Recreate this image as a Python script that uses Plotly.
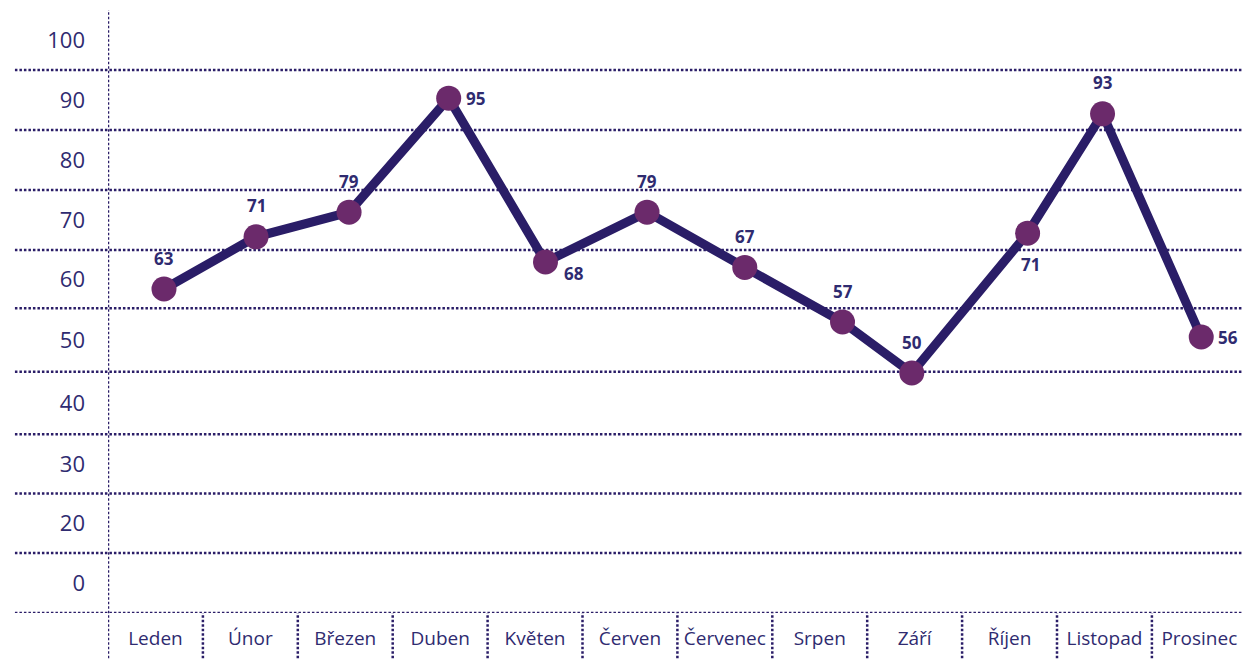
import plotly.graph_objects as go

months = ["Leden", "Únor", "Březen", "Duben", "Květen", "Červen",
          "Červenec", "Srpen", "Září", "Říjen", "Listopad", "Prosinec"]
# horizontal placement of each point within its month band
x_offset = [0.09, 0.06, 0.04, 0.09, 0.11, 0.18, 0.21, 0.24, -0.03, 0.19, -0.02, 0.02]
# plotted heights (read on the axis scale)
y_plot = [58.5, 67.2, 71.3, 90.3, 63.0, 71.3, 62.1, 53.0, 44.5, 67.8, 87.7, 50.5]
# printed data labels
labels = ["63", "71", "79", "95", "68", "79", "67", "57", "50", "71", "93", "56"]
label_side = ["top", "top", "top", "right", "lower-right", "top",
              "top", "top", "top", "bottom", "top", "right"]
# axis band boundaries (top to bottom) and band labels
band_edges = [105, 95, 85, 75, 65, 55.3, 44.7, 34.3, 24.4, 14.5, 4.5]
y_tick_labels = ["100", "90", "80", "70", "60", "50", "40", "30", "20", "0"]

NAVY = "#2a1d67"
TEXT = "#2f2b70"
MARK = "#6b2a6b"
DOT = "2.5px,2px"
LW = 2.5
SHIFT = {"top": (0, 31), "bottom": (3, -31), "right": (27, 0), "lower-right": (29, -11)}

x_vals = [i + o for i, o in enumerate(x_offset)]
y_tick_pos = [(band_edges[i] + band_edges[i + 1]) / 2 for i in range(len(y_tick_labels))]

fig = go.Figure()
fig.add_trace(go.Scatter(
    x=x_vals, y=y_plot, mode="lines+markers",
    line=dict(color=NAVY, width=9),
    marker=dict(color=MARK, size=25),
    cliponaxis=False, hoverinfo="skip", showlegend=False,
))

annotations = []
for xv, yv, t, side in zip(x_vals, y_plot, labels, label_side):
    dx, dy = SHIFT[side]
    annotations.append(dict(x=xv, y=yv, xref="x", yref="y", text=t, showarrow=False,
                            xshift=dx, yshift=dy, xanchor="center", yanchor="middle",
                            font=dict(family="Open Sans", size=17, color=TEXT, weight="bold")))

shapes = []
# horizontal dotted gridlines (extend into the label area)
for e in band_edges[1:]:
    shapes.append(dict(type="line", xref="paper", yref="y", x0=-0.082, x1=1.01, y0=e, y1=e,
                       line=dict(color=NAVY, width=LW, dash=DOT), layer="below"))
# vertical axis line
shapes.append(dict(type="line", xref="x", yref="paper", x0=-0.5, x1=-0.5, y0=-0.09, y1=1,
                   line=dict(color=NAVY, width=LW, dash=DOT), layer="below"))
# month separators below the plot
for k in range(1, len(months)):
    shapes.append(dict(type="line", xref="x", yref="paper", x0=k - 0.5, x1=k - 0.5,
                       y0=-0.09, y1=0, line=dict(color=NAVY, width=LW, dash=DOT), layer="below"))

fig.update_layout(
    width=1243, height=659,
    margin=dict(l=108, r=0, t=10, b=46),
    paper_bgcolor="white", plot_bgcolor="white",
    font=dict(family="Open Sans", color=TEXT),
    shapes=shapes, annotations=annotations,
    xaxis=dict(range=[-0.5, 11.46], tickvals=list(range(len(months))), ticktext=months,
               showgrid=False, zeroline=False, showline=False, ticks="",
               tickfont=dict(size=19, color=TEXT), ticklabelstandoff=12, fixedrange=True),
    yaxis=dict(range=[band_edges[-1], band_edges[0]], tickvals=y_tick_pos, ticktext=y_tick_labels,
               showgrid=False, zeroline=False, showline=False, ticks="",
               tickfont=dict(size=22, color=TEXT), ticklabelstandoff=22, fixedrange=True),
)

fig.write_html(
    "out.html",
    config={"displayModeBar": False},
    post_script="document.body.style.margin='0';document.body.style.overflow='hidden';",
)
